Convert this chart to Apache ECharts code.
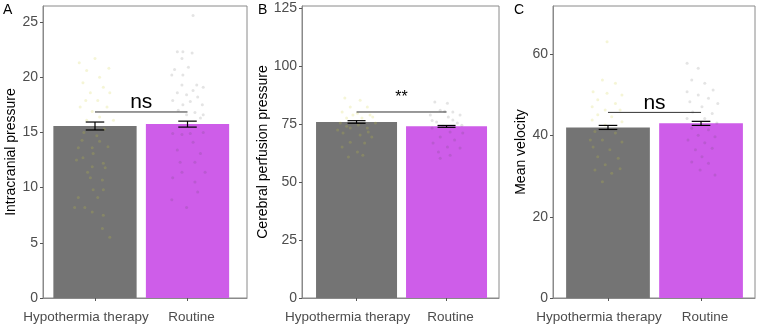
<!DOCTYPE html>
<html>
<head>
<meta charset="utf-8">
<script src="https://cdn.jsdelivr.net/npm/echarts@6/dist/echarts.min.js"></script>
<style>
  html, body { margin: 0; padding: 0; background: #fff; }
  #chart { width: 760px; height: 329px; }
</style>
</head>
<body>
<div id="chart"></div>
<script>
var categories = ["Hypothermia therapy", "Routine"];

// panel A: intracranial pressure
var icpMean = [15.58, 15.75];
var icpSe = [0.36, 0.27];
var icpTicks = [0, 5, 10, 15, 20, 25];
var icpSig = [16.85, "ns"];
// jittered points: [offset from category, value]
var icpHypo = [[-0.17,21.3],[0,21.7],[-0.09,20.6],[0.15,20.8],[0.05,20.0],[-0.13,19.5],[0.09,19.1],[-0.05,18.6],[0.16,18.6],[-0.1,17.9],[0.03,17.9],[-0.16,17.3],[0.13,17.3],[-0.03,16.9],[0.05,16.4],[-0.09,16.1],[0.2,16.1],[0.1,15.3],[-0.12,15.0],[0.02,14.7],[-0.14,14.3],[0.05,14.2],[-0.18,13.6],[-0.03,13.6],[0.14,13.7],[-0.02,13.1],[-0.2,12.5],[-0.13,12.7],[0.09,12.2],[-0.03,11.9],[0.11,11.8],[-0.08,11.4],[-0.05,10.9],[0.08,10.7],[-0.02,9.8],[0.09,9.8],[-0.18,9.1],[0.03,9.1],[-0.22,8.2],[-0.11,8.2],[-0.03,7.8],[0.09,7.5],[0.08,6.3],[0.16,5.5]];
var icpRoutine = [[0.06,25.6],[-0.11,22.3],[-0.05,22.3],[0.05,22.2],[-0.06,21.7],[0.01,20.9],[-0.14,20.7],[-0.17,20.2],[-0.05,20.2],[0.1,19.3],[0.17,19.1],[-0.06,19.3],[0.06,18.8],[-0.11,18.6],[-0.01,18.4],[0.11,18.2],[-0.16,17.9],[0.03,17.8],[-0.05,17.5],[0.16,17.5],[-0.1,17.0],[0.08,16.8],[-0.01,16.6],[0.17,16.6],[0.14,16.3],[-0.16,14.9],[-0.06,14.8],[0.03,14.9],[0.17,15.0],[0.06,14.1],[-0.11,13.4],[0.14,13.1],[-0.08,12.3],[0.08,12.3],[-0.06,11.4],[0.19,11.4],[-0.16,10.9],[0.08,10.5],[-0.17,8.9],[-0.01,8.2],[0.11,9.6]];

// panel B: cerebral perfusion pressure
var cppMean = [75.9, 74.0];
var cppSe = [0.55, 0.4];
var cppTicks = [0, 25, 50, 75, 100, 125];
var cppSig = [80.2, "**"];
var cppHypo = [[-0.13,86.2],[0.04,85.3],[-0.07,82.3],[0.12,82.3],[-0.16,80.2],[0.01,79.7],[0.15,78.9],[-0.11,77.6],[0.06,77.6],[-0.18,75.4],[0.21,75.4],[-0.07,73.3],[0.12,73.3],[-0.15,71.1],[0.04,70.3],[0.17,69.4],[-0.07,67.2],[0.09,66.8],[-0.16,65.1],[0.01,62.9],[-0.09,60.8],[0.07,61.6],[-0.04,78.9],[-0.21,72.4],[0.13,71.6],[0.02,74.6],[-0.11,74.0],[0.18,78.0]];
var cppRoutine = [[-0.13,84.5],[0.01,84.0],[-0.07,81.0],[0.07,80.2],[-0.18,78.9],[0.02,78.0],[0.15,78.9],[-0.11,75.9],[0.12,75.4],[-0.16,73.3],[0.04,71.6],[0.18,71.1],[-0.07,69.4],[0.09,68.1],[-0.15,66.8],[0.01,65.1],[0.15,64.7],[-0.09,62.9],[0.04,61.6],[-0.07,60.3],[-0.04,74.0],[0.07,76.7],[-0.16,76.5],[0.17,74.5],[-0.02,80.5]];

// panel C: mean velocity
var mvMean = [42.0, 43.0];
var mvSe = [0.5, 0.5];
var mvTicks = [0, 20, 40, 60];
var mvSig = [45.7, "ns"];
var mvHypo = [[-0.01,63.1],[-0.06,53.7],[0.08,52.9],[-0.16,50.8],[-0.01,50.4],[0.15,50.0],[-0.11,48.8],[0.08,47.9],[-0.17,47.1],[-0.03,46.3],[0.13,46.3],[-0.11,45.1],[0.04,44.6],[-0.17,43.8],[0.15,43.4],[-0.03,42.6],[-0.14,41.0],[0.08,40.6],[-0.06,38.9],[0.15,38.4],[-0.16,37.2],[0.02,36.5],[-0.11,34.8],[0.11,34.4],[-0.03,32.8],[-0.14,31.5],[0.04,30.7],[-0.06,28.6],[0.13,31.8],[-0.19,38.9]];
var mvRoutine = [[-0.15,57.8],[-0.03,56.6],[-0.1,53.7],[0.04,52.9],[0.13,51.2],[-0.15,50.8],[-0.03,50.0],[0.08,49.2],[-0.12,48.3],[0.18,47.9],[0.01,47.1],[-0.09,45.8],[0.12,45.4],[-0.15,44.2],[0.04,44.2],[0.17,43.1],[-0.1,41.8],[0.08,41.4],[-0.03,40.1],[0.15,39.7],[-0.14,38.9],[0.04,38.2],[-0.06,36.5],[0.12,36.9],[0.01,34.8],[-0.1,33.5],[0.08,33.2],[0.15,30.3],[-0.01,31.5]];

var barColors = ["#747474", "#ce5de9"];
var pointColors = ["rgba(205,205,60,0.26)", "rgba(70,70,70,0.18)"];
var FONT = "'Liberation Sans', Arial, sans-serif";
var BAR_HALF = 0.45;
var CAP_HALF = 0.1;

var panels = [
  { tag: "A", name: "Intracranial pressure", mean: icpMean, se: icpSe, ticks: icpTicks, sig: icpSig, pts: [icpHypo, icpRoutine],
    grid: { left: 43, top: 6, width: 204, height: 292 }, xmin: 0.438, xmax: 2.643, ymax: 26.45, nameGap: 24, tagLeft: 3 },
  { tag: "B", name: "Cerebral perfusion pressure", mean: cppMean, se: cppSe, ticks: cppTicks, sig: cppSig, pts: [cppHypo, cppRoutine],
    grid: { left: 302, top: 6, width: 197, height: 292 }, xmin: 0.394, xmax: 2.583, ymax: 125.9, nameGap: 24, tagLeft: 258 },
  { tag: "C", name: "Mean velocity", mean: mvMean, se: mvSe, ticks: mvTicks, sig: mvSig, pts: [mvHypo, mvRoutine],
    grid: { left: 553, top: 6, width: 202, height: 292 }, xmin: 0.409, xmax: 2.58, ymax: 71.9, nameGap: 22, tagLeft: 514 }
];

function renderBar(params, api) {
  var x = api.value(0), y = api.value(1);
  var p0 = api.coord([x - BAR_HALF, y]);
  var p1 = api.coord([x + BAR_HALF, 0]);
  return {
    type: "rect",
    shape: { x: p0[0], y: p0[1], width: p1[0] - p0[0], height: p1[1] - p0[1] },
    style: { fill: barColors[params.dataIndex] }
  };
}

function renderErr(params, api) {
  var x = api.value(0);
  var lo = api.coord([x, api.value(1)]);
  var hi = api.coord([x, api.value(2)]);
  var l = api.coord([x - CAP_HALF, api.value(1)])[0];
  var r = api.coord([x + CAP_HALF, api.value(1)])[0];
  var st = { stroke: "#000", lineWidth: 1.2 };
  return {
    type: "group",
    children: [
      { type: "line", shape: { x1: lo[0], y1: lo[1], x2: hi[0], y2: hi[1] }, style: st },
      { type: "line", shape: { x1: l, y1: lo[1], x2: r, y2: lo[1] }, style: st },
      { type: "line", shape: { x1: l, y1: hi[1], x2: r, y2: hi[1] }, style: st }
    ]
  };
}

function makeSigRender(label) {
  return function (params, api) {
    var a = api.coord([api.value(0), api.value(2)]);
    var b = api.coord([api.value(1), api.value(2)]);
    var isStar = label.indexOf("*") >= 0;
    return {
      type: "group",
      children: [
        { type: "line", shape: { x1: a[0], y1: a[1], x2: b[0], y2: b[1] }, style: { stroke: "#333", lineWidth: 1 } },
        { type: "text", style: { text: label, x: (a[0] + b[0]) / 2, y: isStar ? a[1] - 6 : a[1] + 1,
          align: "center", verticalAlign: "bottom", fontSize: isStar ? 16 : 21, fontFamily: FONT, fill: "#000" } }
      ]
    };
  };
}

var grids = [], xAxes = [], yAxes = [], series = [], titles = [];
panels.forEach(function (p, i) {
  grids.push(Object.assign({ show: true, borderColor: "#8a8a8a", borderWidth: 1, backgroundColor: "transparent" }, p.grid));
  titles.push({ text: p.tag, left: p.tagLeft, top: 3, padding: 0,
    textStyle: { fontSize: 14, fontWeight: "normal", color: "#000", fontFamily: FONT } });
  xAxes.push({
    gridIndex: i, type: "value", min: p.xmin, max: p.xmax,
    splitLine: { show: false },
    axisLine: { lineStyle: { color: "#8a8a8a" } },
    axisTick: { customValues: [1, 2], length: 3, lineStyle: { color: "#555" } },
    axisLabel: { customValues: [1, 2], margin: 12, color: "#4d4d4d", fontSize: 13.5, fontFamily: FONT,
      formatter: function (v) { return Math.round(v) === 1 ? "{a|" + categories[0] + "}" : "{b|" + categories[1] + "}"; },
      rich: {
        a: { padding: [0, 18, 0, 0], color: "#4d4d4d", fontSize: 13.5, fontFamily: FONT },
        b: { padding: [0, 0, 0, 8], color: "#4d4d4d", fontSize: 13.5, fontFamily: FONT }
      } }
  });
  yAxes.push({
    gridIndex: i, type: "value", min: 0, max: p.ymax,
    name: p.name, nameLocation: "middle", nameGap: p.nameGap, nameRotate: 90,
    nameTextStyle: { color: "#000", fontSize: 14, fontFamily: FONT },
    splitLine: { show: false },
    axisLine: { show: true, lineStyle: { color: "#8a8a8a" } },
    axisTick: { show: true, customValues: p.ticks, length: 3, lineStyle: { color: "#555" } },
    axisLabel: { customValues: p.ticks, margin: 5, color: "#4d4d4d", fontSize: 14, fontFamily: FONT }
  });
  series.push({
    type: "custom", xAxisIndex: i, yAxisIndex: i, renderItem: renderBar, silent: true,
    data: p.mean.map(function (m, k) { return [k + 1, m]; })
  });
  p.pts.forEach(function (group, k) {
    series.push({
      type: "scatter", xAxisIndex: i, yAxisIndex: i, symbolSize: 3, silent: true, z: 3,
      itemStyle: { color: pointColors[k] },
      data: group.map(function (d) { return [k + 1 + d[0], d[1]]; })
    });
  });
  series.push({
    type: "custom", xAxisIndex: i, yAxisIndex: i, renderItem: renderErr, silent: true, z: 4,
    data: p.mean.map(function (m, k) { return [k + 1, m - p.se[k], m + p.se[k]]; })
  });
  series.push({
    type: "custom", xAxisIndex: i, yAxisIndex: i, renderItem: makeSigRender(p.sig[1]), silent: true, z: 5,
    data: [[1, 2, p.sig[0]]]
  });
});

var chart = echarts.init(document.getElementById("chart"));
chart.setOption({
  animation: false,
  backgroundColor: "#fff",
  title: titles,
  grid: grids,
  xAxis: xAxes,
  yAxis: yAxes,
  series: series
});
</script>
</body>
</html>
